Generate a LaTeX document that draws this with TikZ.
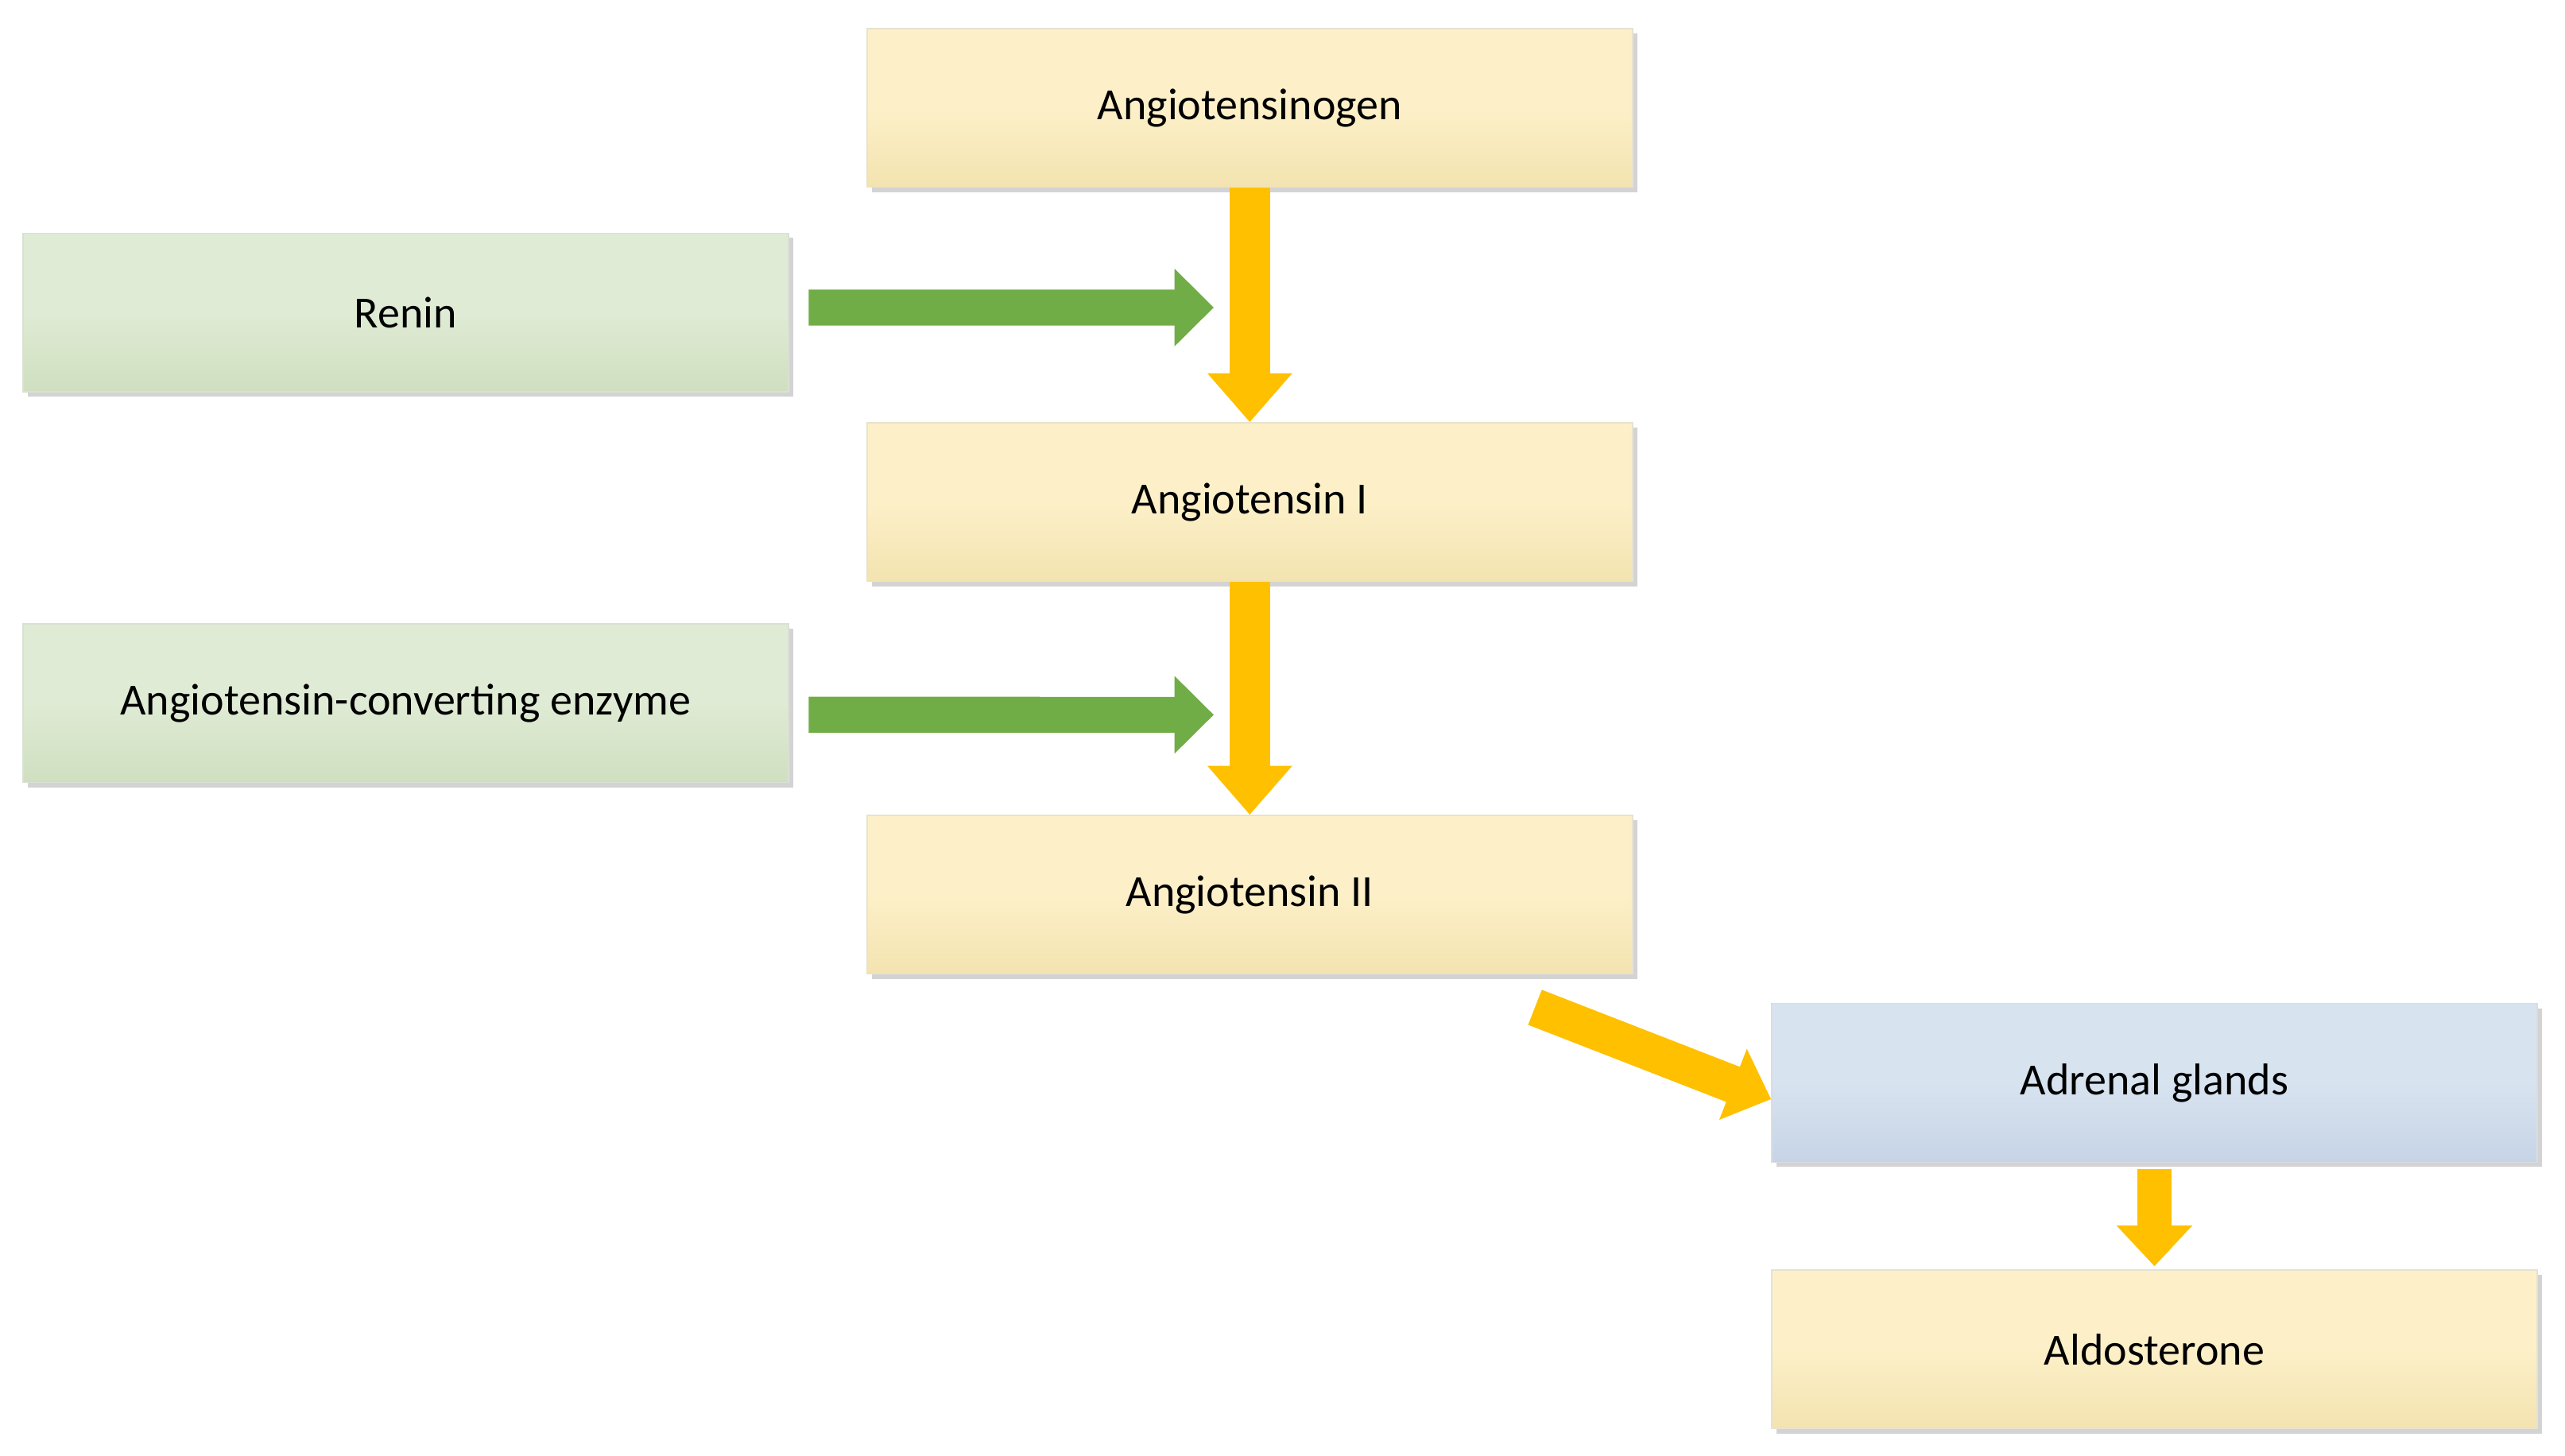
\documentclass[tikz,border=0pt]{standalone}
\usepackage{fontspec}
\setmainfont{Carlito}
\usetikzlibrary{arrows.meta,shadows}
\definecolor{ybox}{HTML}{FDF0C8}
\definecolor{ygrad}{HTML}{F3E3B0}
\definecolor{gbox}{HTML}{DFEBD4}
\definecolor{ggrad}{HTML}{CFDFC0}
\definecolor{bbox}{HTML}{D8E3F0}
\definecolor{bgrad}{HTML}{C6D4E6}
\definecolor{yarr}{HTML}{FFC000}
\definecolor{garr}{HTML}{70AD47}
\tikzset{
 box/.style={minimum width=9.36cm,minimum height=1.94cm,inner sep=0pt,
   font=\fontsize{15.5}{18}\selectfont, drop shadow={shadow xshift=0.06cm,shadow yshift=-0.06cm,opacity=0.35}},
 ybx/.style={box,top color=ybox,bottom color=ygrad,middle color=ybox,draw=ygrad!80!black!40},
 gbx/.style={box,top color=gbox,bottom color=ggrad,middle color=gbox,draw=ggrad!80!black!40},
 bbx/.style={box,top color=bbox,bottom color=bgrad,middle color=bbox,draw=bgrad!80!black!40},
 yar/.style={draw=yarr,line width=0.5cm,line cap=butt,-{Triangle[width=1.0cm,length=0.6cm]}},
 gar/.style={draw=garr,line width=0.44cm,line cap=butt,-{Triangle[width=0.92cm,length=0.48cm]}},
 sar/.style={draw=yarr,line width=0.46cm,line cap=butt,-{Triangle[width=0.9cm,length=0.5cm]}},
}
\begin{document}
\begin{tikzpicture}[x=0.02cm,y=-0.02cm]
\useasboundingbox (0,0) rectangle (1568,890);
\node[ybx] (ag) at (764,66) {Angiotensinogen};
\node[gbx] (rn) at (248,191) {Renin};
\node[ybx] (a1) at (764,307) {Angiotensin I};
\node[gbx] (ace) at (248,430) {Angiotensin-converting enzyme};
\node[ybx] (a2) at (764,547) {Angiotensin II};
\node[bbx] (adr) at (1317,662) {Adrenal glands};
\node[ybx] (ald) at (1317,825) {Aldosterone};
\coordinate (r1) at (742,188);
\coordinate (r2) at (742,437);
\draw[yar] (ag.south) -- (a1.north);
\draw[yar] (a1.south) -- (a2.north);
\draw[gar] ([xshift=0.24cm,yshift=0.06cm]rn.east) -- (r1);
\draw[gar] ([xshift=0.24cm,yshift=-0.14cm]ace.east) -- (r2);
\draw[sar] ([xshift=-1.2cm,yshift=-0.4cm]a2.south east) -- ([yshift=-0.2cm]adr.west);
\draw[yar,line width=0.42cm,-{Triangle[width=0.9cm,length=0.5cm]}] ([yshift=-0.08cm]adr.south) -- ([yshift=0.04cm]ald.north);
\end{tikzpicture}
\end{document}
